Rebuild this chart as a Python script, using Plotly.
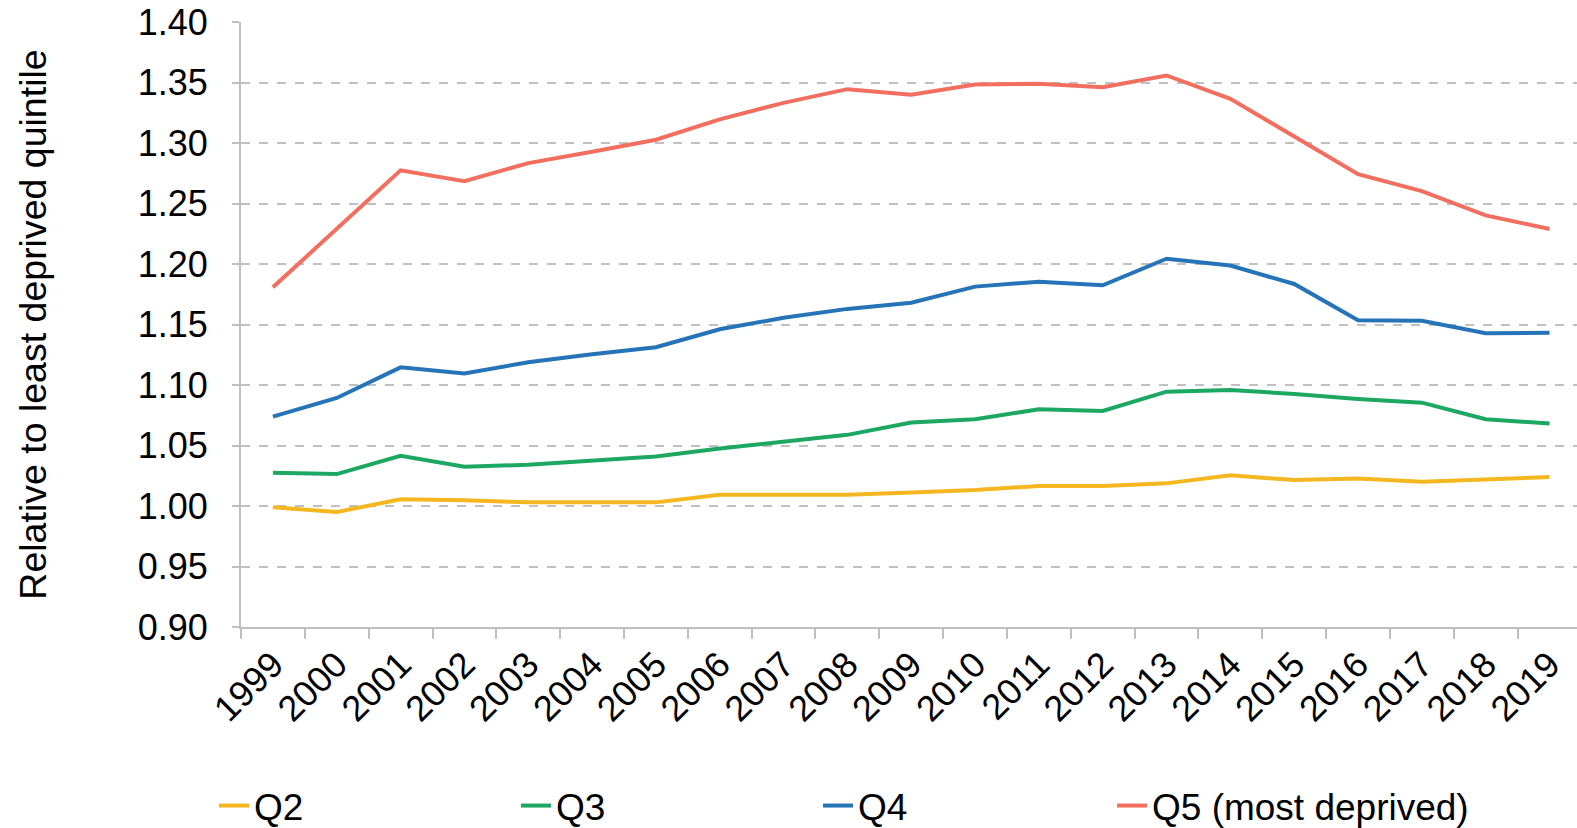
import plotly.graph_objects as go

years = [str(y) for y in range(1999, 2020)]
q2 = [0.999, 0.995, 1.0055, 1.0047, 1.003, 1.0033, 1.003, 1.0093, 1.0096, 1.0093, 1.0112,
      1.0132, 1.0165, 1.0165, 1.0187, 1.0255, 1.0214, 1.0228, 1.0201, 1.0217, 1.0239]
q3 = [1.0275, 1.0264, 1.0415, 1.0324, 1.0341, 1.0374, 1.0409, 1.0475, 1.053, 1.0588, 1.069,
      1.0717, 1.0799, 1.0786, 1.0945, 1.0959, 1.0926, 1.0885, 1.0854, 1.0717, 1.0681]
q4 = [1.0739, 1.0893, 1.1146, 1.1096, 1.1188, 1.1255, 1.1312, 1.1461, 1.1555, 1.1629, 1.168,
      1.1813, 1.1854, 1.1824, 1.2044, 1.1987, 1.1835, 1.1535, 1.153, 1.1428, 1.1431]
q5 = [1.1808, 1.229, 1.2774, 1.2685, 1.2834, 1.2928, 1.3027, 1.3195, 1.3332, 1.3445, 1.3398,
      1.3484, 1.3489, 1.3461, 1.3558, 1.3365, 1.3054, 1.2743, 1.2603, 1.2402, 1.2289]

series_names = ["Q2", "Q3", "Q4", "Q5 (most deprived)"]
series_values = [q2, q3, q4, q5]
series_colors = ["#f5b71f", "#1ca862", "#2574b8", "#f26f5f"]

y_ticks = [0.90, 0.95, 1.00, 1.05, 1.10, 1.15, 1.20, 1.25, 1.30, 1.35, 1.40]

legend_ids = ["legend", "legend2", "legend3", "legend4"]
legend_x_px = [214, 516, 818, 1112]

font_family = "Liberation Sans, Arial, sans-serif"

fig = go.Figure()
for name, vals, col, lid in zip(series_names, series_values, series_colors, legend_ids):
    fig.add_trace(go.Scatter(x=years, y=vals, mode="lines", name=name, legend=lid,
                             line=dict(color=col, width=4)))

layout_legends = {}
for lid, xpx in zip(legend_ids, legend_x_px):
    layout_legends[lid] = dict(orientation="h", xref="container", yref="container",
                               x=xpx / 1577, y=0.064, xanchor="left", yanchor="top",
                               font=dict(size=37, family=font_family), itemwidth=30,
                               bgcolor="rgba(0,0,0,0)")

fig.update_layout(
    width=1577, height=828,
    margin=dict(l=241, r=0, t=22, b=201, autoexpand=False),
    paper_bgcolor="white", plot_bgcolor="white",
    font=dict(family=font_family, size=36, color="black"),
    showlegend=True,
    **layout_legends,
)
fig.update_xaxes(type="category", range=[-0.5, 20.43], tickangle=-45,
                 tickson="boundaries", ticks="outside", ticklen=10, tickcolor="#bfbfbf",
                 tickwidth=2, showline=True, linecolor="#bfbfbf", linewidth=2,
                 showgrid=False, tickfont=dict(size=36), automargin=False)
fig.update_yaxes(range=[0.90, 1.40], tickvals=y_ticks,
                 ticktext=[f"{v:.2f}" for v in y_ticks],
                 ticks="outside", ticklen=7, tickcolor="#bfbfbf", tickwidth=2,
                 ticklabelstandoff=17,
                 showline=True, linecolor="#bfbfbf", linewidth=2,
                 showgrid=True, gridcolor="#c0c0c0", gridwidth=1.5, griddash="dash",
                 zeroline=False, tickfont=dict(size=36), automargin=False,
                 title=dict(text="Relative to least deprived quintile", standoff=80,
                            font=dict(size=37.5)))

fig.write_html("out.html", config={"displayModeBar": False},
               post_script="document.body.style.margin='0';document.body.style.overflow='hidden';")
